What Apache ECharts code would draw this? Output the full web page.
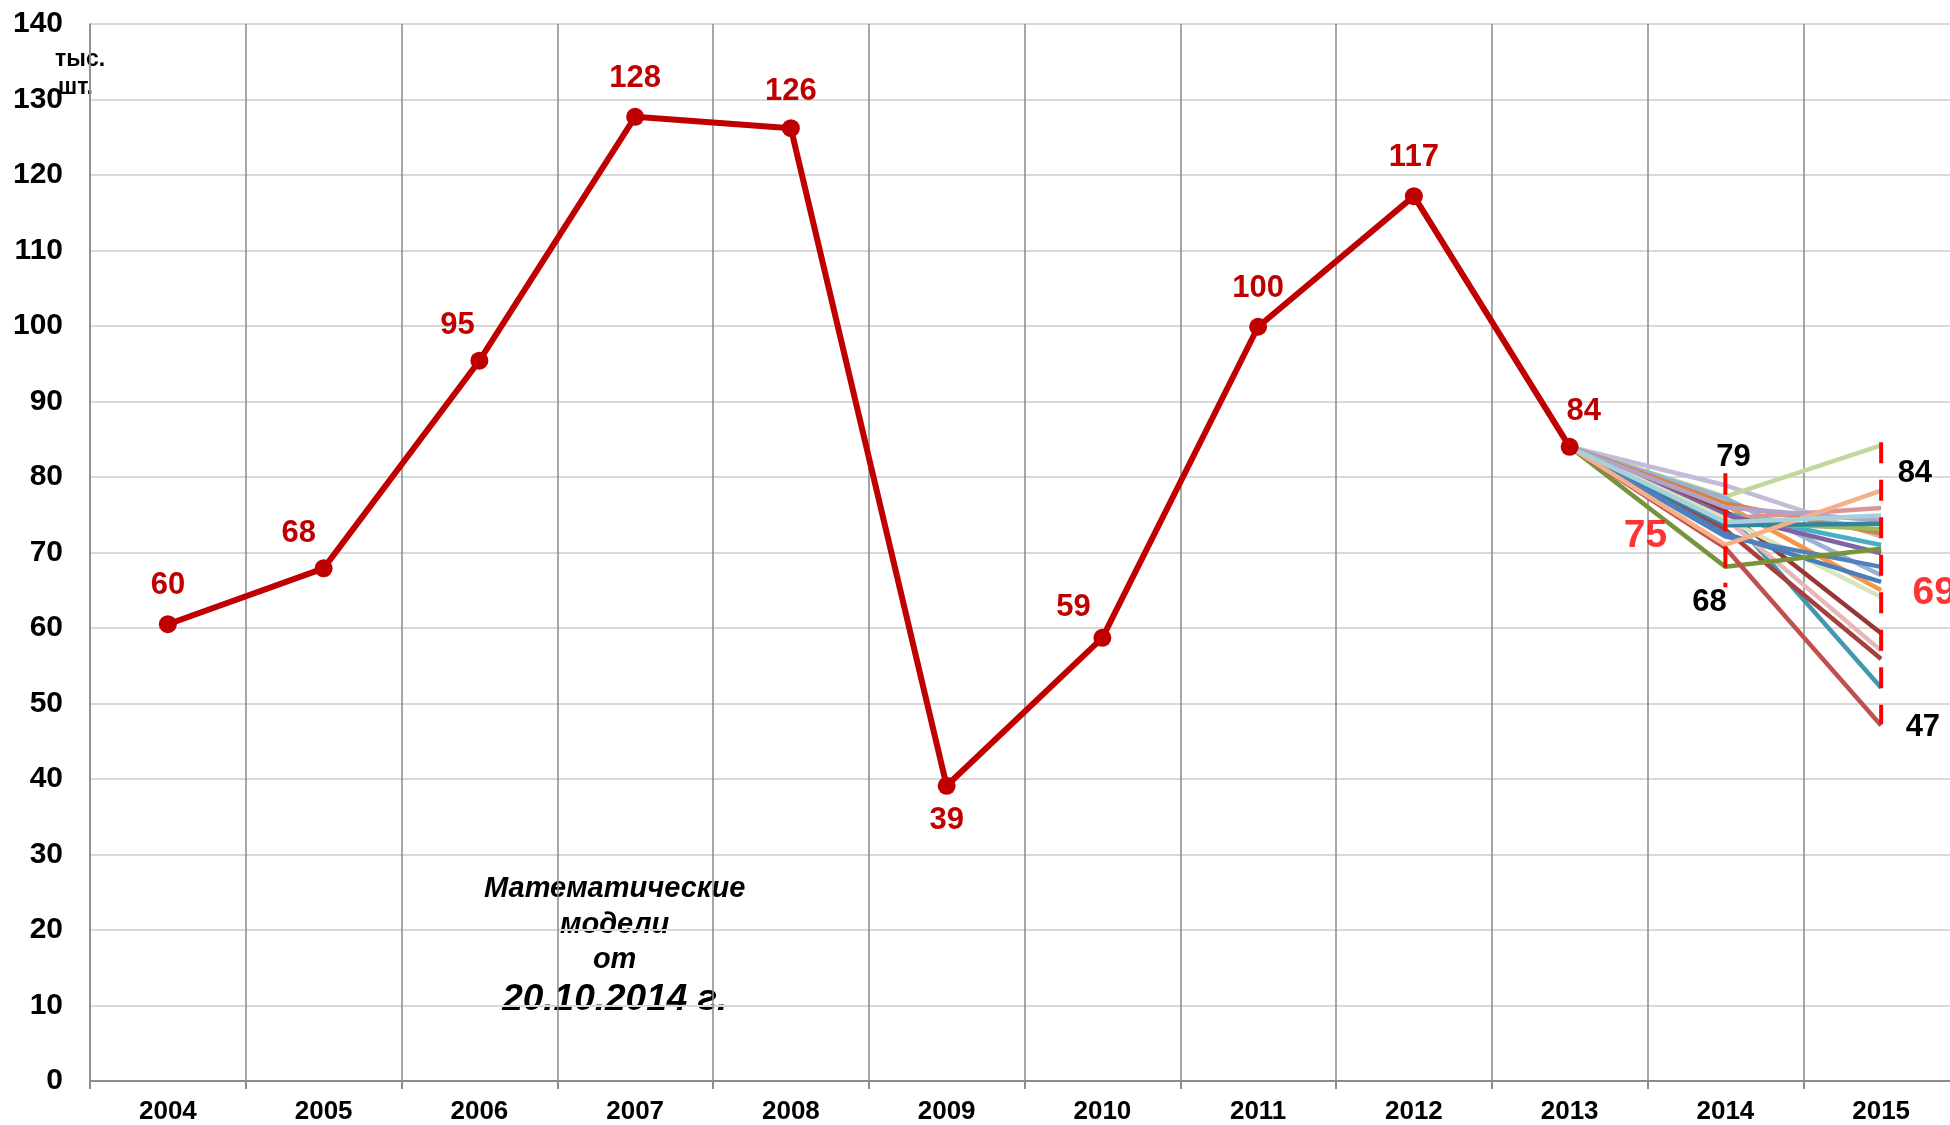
<!DOCTYPE html>
<html>
<head>
<meta charset="utf-8">
<script src="https://cdn.jsdelivr.net/npm/echarts@6.0.0/dist/echarts.min.js"></script>
<style>
  html, body { margin: 0; padding: 0; background: #fff; }
  #chart { width: 1950px; height: 1125px; }
</style>
</head>
<body>
<div id="chart"></div>
<script>
// годы
var years = ['2004', '2005', '2006', '2007', '2008', '2009', '2010', '2011', '2012', '2013', '2014', '2015'];

// факт, тыс. шт.
var actual = [60.5, 67.9, 95.4, 127.7, 126.2, 39.1, 58.7, 99.9, 117.2, 84.0];
var actualLabels = ['60', '68', '95', '128', '126', '39', '59', '100', '117', '84'];

// модели: значения 2014 и 2015
var model2014 = [78.9, 77.4, 77.2, 76.3, 76.5, 75.2, 75.5, 75.5, 74.5, 73.0, 74.5, 75.0, 74.0, 74.5, 72.5, 76.0, 73.6, 72.1, 68.1, 70.6, 71.0, 74.0];
var model2015 = [72.1, 84.2, 67.0, 65.0, 72.5, 71.0, 52.1, 59.3, 57.0, 55.9, 75.9, 69.9, 73.1, 64.1, 66.1, 74.2, 73.8, 68.1, 70.5, 47.1, 78.2, 74.9];
var modelColors = ['#c3bcd8', '#c3d69b', '#95b3d7', '#f79646', '#d9823b', '#4bacc6', '#4198af', '#953735',
  '#e6b9b8', '#a5403d', '#d99694', '#8064a2', '#9bbb59', '#d7e4bd', '#4a7ebb', '#b3a2c7',
  '#31859c', '#4f81bd', '#77933c', '#c0504d', '#f5b08a', '#a8d0dc'];

// диапазоны и средние
var range2014 = [80.5, 65.4];
var range2015 = [84.6, 47.3];
var range2014Labels = ['79', '68'];
var range2015Labels = ['84', '47'];
var meanValues = [75, 69];

// сдвиги подписей факта
var labelShift = [[0, 0], [-25, 3.5], [-22, 3.5], [0, 0], [0, 1.5], [0, -3.5], [-29, 8.5], [0, 0], [0, 0], [14, 3.5]];

var font = 'Liberation Sans, Arial, sans-serif';

var series = [];

modelColors.forEach(function (c, i) {
  var d = years.map(function () { return null; });
  d[9] = actual[9];
  d[10] = model2014[i];
  d[11] = model2015[i];
  series.push({
    type: 'line',
    data: d,
    symbol: 'none',
    lineStyle: { color: c, width: 4.5 },
    z: 2
  });
});

function rangeSeries(year, vals, labels, dash, lbl) {
  return {
    type: 'line',
    symbol: 'circle',
    symbolSize: 1,
    itemStyle: { color: 'rgba(0,0,0,0)' },
    z: 3,
    lineStyle: { color: '#ff0000', width: 4, type: dash },
    data: [
      { value: [year, vals[0]], label: Object.assign({ show: true, formatter: labels[0] }, lbl[0]) },
      { value: [year, vals[1]], label: Object.assign({ show: true, formatter: labels[1] }, lbl[1]) }
    ],
    label: { color: '#000', fontFamily: font, fontWeight: 'bold', fontSize: 31 }
  };
}

series.push(rangeSeries('2014', range2014, range2014Labels, [21.5, 15], [
  { position: 'top', distance: 0, offset: [8, 0] },
  { position: 'bottom', distance: 0, offset: [-16, -1] }
]));
series.push(rangeSeries('2015', range2015, range2015Labels, [21, 16.5], [
  { position: 'right', distance: 16, offset: [0, 31] },
  { position: 'right', distance: 24, offset: [0, 4] }
]));

series.push({
  type: 'scatter',
  symbolSize: 1,
  itemStyle: { color: 'rgba(0,0,0,0)' },
  z: 4,
  data: [
    { value: ['2014', meanValues[0]], label: { show: true, position: 'inside', offset: [-80, 21], formatter: String(meanValues[0]) } },
    { value: ['2015', meanValues[1]], label: { show: true, position: 'inside', offset: [53, 33], formatter: String(meanValues[1]) } }
  ],
  label: { color: '#ff0000', fontFamily: font, fontWeight: 'bold', fontSize: 39 }
});

series.push({
  type: 'line',
  data: actual.map(function (v, i) {
    return {
      value: v,
      label: {
        position: i === 5 ? 'bottom' : 'top',
        offset: labelShift[i],
        formatter: actualLabels[i]
      }
    };
  }),
  symbol: 'circle',
  symbolSize: 18,
  itemStyle: { color: '#c00000' },
  lineStyle: { color: '#c00000', width: 6 },
  label: { show: true, distance: 14, color: '#c00000', fontFamily: font, fontWeight: 'bold', fontSize: 31 },
  z: 5
});

var chart = echarts.init(document.getElementById('chart'));
chart.setOption({
  animation: false,
  backgroundColor: '#ffffff',
  grid: { left: 90, width: 1869, top: 24, bottom: 44, outerBoundsMode: 'none', containLabel: false },
  xAxis: {
    type: 'category',
    data: years,
    boundaryGap: true,
    axisLine: { lineStyle: { color: '#8c8c8c', width: 2 } },
    axisTick: { show: true, interval: 0, length: 8, lineStyle: { color: '#8c8c8c', width: 2 } },
    splitLine: { show: true, interval: 0, lineStyle: { color: '#8a8a8a', width: 1.5 } },
    axisLabel: { interval: 0, margin: 18, color: '#000', fontFamily: font, fontWeight: 'bold', fontSize: 26 }
  },
  yAxis: {
    type: 'value',
    min: 0,
    max: 140,
    interval: 10,
    axisLine: { show: true, lineStyle: { color: '#8c8c8c', width: 1.5 } },
    axisTick: { show: false },
    splitLine: { lineStyle: { color: '#d9d9d9', width: 2 } },
    axisLabel: { margin: 27, color: '#000', fontFamily: font, fontWeight: 'bold', fontSize: 30 }
  },
  graphic: [
    { type: 'text', left: 55, top: 48, style: { text: 'тыс.', font: 'bold 23px ' + font, fill: '#000' } },
    { type: 'text', left: 58, top: 76, style: { text: 'шт.', font: 'bold 23px ' + font, fill: '#000' } },
    {
      type: 'group', left: 484, top: 874,
      children: [
        { type: 'text', x: 146, y: 0, style: { text: 'Математические', align: 'center', font: 'italic bold 29px ' + font, fill: '#000' } },
        { type: 'text', x: 146, y: 36, style: { text: 'модели', align: 'center', font: 'italic bold 29px ' + font, fill: '#000' } },
        { type: 'text', x: 146, y: 71, style: { text: 'от', align: 'center', font: 'italic bold 29px ' + font, fill: '#000' } },
        { type: 'text', x: 146, y: 107, style: { text: '20.10.2014 г.', align: 'center', font: 'italic bold 37px ' + font, fill: '#000' } }
      ]
    }
  ],
  series: series
});
</script>
</body>
</html>
